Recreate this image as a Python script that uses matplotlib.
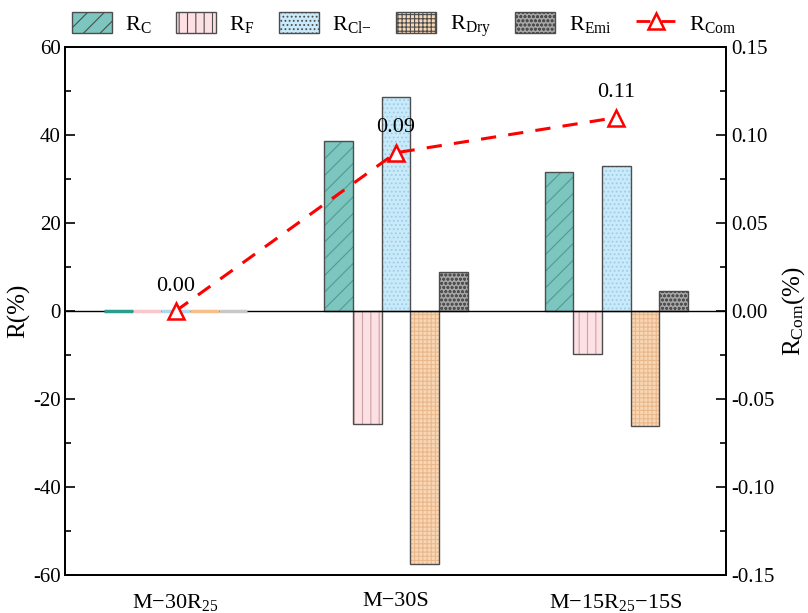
import numpy as np
import matplotlib
matplotlib.use("Agg")
import matplotlib.pyplot as plt
from matplotlib.patches import Patch
from matplotlib.lines import Line2D
from matplotlib.ticker import MultipleLocator, FormatStrFormatter

plt.rcParams["font.family"] = ["Liberation Serif", "DejaVu Serif"]
plt.rcParams["mathtext.fontset"] = "custom"
plt.rcParams["mathtext.rm"] = "Liberation Serif"
plt.rcParams["mathtext.it"] = "Liberation Serif:italic"
plt.rcParams["axes.unicode_minus"] = False
plt.rcParams["hatch.linewidth"] = 0.8

# mixes and measured ratios (%)
mixes = ["M\u221230R$_{25}$", "M\u221230S", "M\u221215R$_{25}$\u221215S"]
r_c = [0.0, 38.6, 31.6]
r_f = [0.0, -25.7, -9.8]
r_cl = [0.0, 48.6, 33.1]
r_dry = [0.0, -57.6, -26.1]
r_emi = [0.0, 8.9, 4.6]
r_com = [0.00, 0.09, 0.11]

series_labels = ["$\\mathrm{R_{C}}$", "$\\mathrm{R_{F}}$", "$\\mathrm{R_{Cl{-}}}$",
                 "$\\mathrm{R_{Dry}}$", "$\\mathrm{R_{Emi}}$"]
com_label = "$\\mathrm{R_{Com}}$"

face_colors = ["#7cc6bf", "#fde0e4", "#c8eafa", "#f9d7b5", "#a6a6a6"]
hatch_colors = ["#4f9a93", "#c9a2a8", "#9fcde4", "#e9b98d", "#505050"]
zero_colors = ["#2a9d8f", "#fbc7cf", "#a9dcf3", "#f7c08a", "#c8c8c8"]
hatches = ["//", "||", "....", "++++", "oooo"]
edge = "#4d4d4d"

fig = plt.figure(figsize=(8.08, 6.13), dpi=100)
ax = fig.add_axes([0.081, 0.062, 0.818, 0.861])
ax2 = ax.twinx()

x = np.arange(len(mixes))
w = 0.13
offsets = [-2 * w, -w, 0, w, 2 * w]
all_series = [r_c, r_f, r_cl, r_dry, r_emi]

for vals, off, fc, hc, zc, hatch in zip(all_series, offsets, face_colors,
                                        hatch_colors, zero_colors, hatches):
    for xi, v in zip(x, vals):
        if v == 0:
            # zero values show up as a short coloured stroke on the baseline
            ax.plot([xi + off - w / 2, xi + off + w / 2], [0, 0], color=zc,
                    linewidth=2.5, solid_capstyle="butt", zorder=5)
            continue
        ax.bar(xi + off, v, w, color=fc, linewidth=0, zorder=2)
        ax.bar(xi + off, v, w, fill=False, edgecolor=hc, hatch=hatch, linewidth=0, zorder=3)
        ax.bar(xi + off, v, w, fill=False, edgecolor=edge, linewidth=1.0, zorder=3.5)

ax.axhline(0, color="black", linewidth=1.0, zorder=4)

ax.set_xlim(-0.5, 2.5)
ax.set_ylim(-60, 60)
ax.yaxis.set_major_locator(MultipleLocator(20))
ax.yaxis.set_minor_locator(MultipleLocator(10))
ax.set_xticks(x)
ax.set_xticklabels(mixes, fontsize=16)
ax.tick_params(axis="x", length=0, pad=12)
ax.tick_params(axis="y", which="both", direction="in", labelsize=15)
ax.tick_params(axis="y", which="major", length=7, width=1.2)
ax.tick_params(axis="y", which="minor", length=4, width=1.2)
ax.set_ylabel("R(%)", fontsize=18)
ax.yaxis.set_label_coords(-0.053, 0.5)

# combined ratio on the right axis
ax2.plot(x, r_com, color="red", linestyle=(0, (5, 4)), linewidth=2.2, marker="^",
         markersize=12, markerfacecolor="white", markeredgecolor="red",
         markeredgewidth=1.8, zorder=5)
for xi, v in zip(x, r_com):
    ax2.annotate(f"{v:.2f}", (xi, v), xytext=(0, 11), textcoords="offset points",
                 ha="center", va="bottom", fontsize=16)
ax2.set_ylim(-0.15, 0.15)
ax2.yaxis.set_major_locator(MultipleLocator(0.05))
ax2.yaxis.set_minor_locator(MultipleLocator(0.025))
ax2.yaxis.set_major_formatter(FormatStrFormatter("%.2f"))
ax2.tick_params(axis="y", which="both", direction="in", labelsize=15)
ax2.tick_params(axis="y", which="major", length=7, width=1.2)
ax2.tick_params(axis="y", which="minor", length=4, width=1.2)
ax2.set_ylabel(com_label + "(%)", fontsize=18, labelpad=4)

for a in (ax, ax2):
    for s in a.spines.values():
        s.set_linewidth(1.3)

handles = [Patch(facecolor=fc, edgecolor=edge, hatch=h, linewidth=1.0)
           for fc, h in zip(face_colors, hatches)]
handles.append(Line2D([0], [0], color="red", linestyle=(0, (5, 4)), linewidth=2,
                      marker="^", markersize=11, markerfacecolor="white",
                      markeredgecolor="red", markeredgewidth=1.8))
fig.legend(handles, series_labels + [com_label], loc="lower center",
           bbox_to_anchor=(0.5, 0.915), ncol=6, frameon=False, fontsize=16,
           handlelength=1.8, handleheight=1.1, columnspacing=1.1, handletextpad=0.6,
           borderaxespad=0.2)

fig.savefig("out.png", dpi=100)
